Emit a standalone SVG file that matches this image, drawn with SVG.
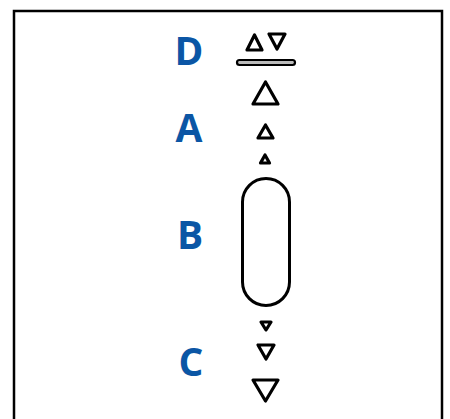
<svg xmlns="http://www.w3.org/2000/svg" width="450" height="419" viewBox="0 0 450 419">
<style>
.lbl{font-family:"Open Sans","Liberation Sans",sans-serif;font-weight:bold;font-size:39px;fill:#0B56A5;text-anchor:middle}
.tri{fill:#fff;stroke:#000;stroke-width:3.2;stroke-linejoin:round}
</style>
<rect width="450" height="419" fill="#fff"/>
<rect x="14" y="11" width="428" height="430" fill="none" stroke="#000" stroke-width="2.5"/>
<g id="labels">
<text class="lbl" x="189" y="65">D</text>
<text class="lbl" x="189" y="142">A</text>
<text class="lbl" x="190" y="249">B</text>
<text class="lbl" x="191" y="376">C</text>
</g>
<g id="D">
<path class="tri" d="M254.5,35 L262,50 L247,50 Z"/>
<path class="tri" d="M269,34 L285,34 L277,49 Z"/>
<rect x="237" y="60" width="58" height="5" rx="2.5" fill="#bbb" stroke="#000" stroke-width="2.2"/>
</g>
<g id="A">
<path class="tri" d="M265.5,82 L278,104 L253,104 Z"/>
<path class="tri" d="M265.5,125 L273,138 L258,138 Z"/>
<path class="tri" d="M265,155 L269.5,163 L260.5,163 Z"/>
</g>
<g id="B">
<rect x="242.5" y="178.5" width="47" height="127" rx="23.5" fill="#fff" stroke="#000" stroke-width="3"/>
</g>
<g id="C">
<path class="tri" d="M261,322 L271,322 L266,330 Z"/>
<path class="tri" d="M258,345 L274,345 L266,359 Z"/>
<path class="tri" d="M253,380 L278,380 L265.5,401 Z"/>
</g>
<g id="connectors"></g>
</svg>
